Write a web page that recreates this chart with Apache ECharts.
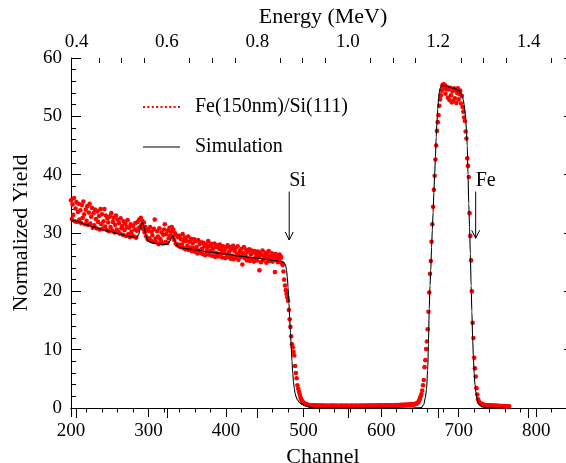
<!DOCTYPE html>
<html>
<head>
<meta charset="utf-8">
<script src="https://cdn.jsdelivr.net/npm/echarts@6.0.0/dist/echarts.min.js"></script>
<style>
  html, body { margin: 0; padding: 0; background: #fff; }
  #chart { width: 566px; height: 463px; }
</style>
</head>
<body>
<div id="chart"></div>
<script>
// RBS spectrum of a Fe(150nm) film on Si(111): measured yield per channel and simulation.

// Measured yield, one value per channel starting at channel 200.
const measuredStartChannel = 200;
const measuredYield = [
  /* 200 */ 35.6, 32.4, 34.9, 33.1, 36.0, 32.0, 34.2, 35.3, 31.9, 33.6,
  /* 210 */ 35.0, 32.3, 33.9, 31.7, 34.8, 32.6, 35.4, 33.2, 31.5, 34.0,
  /* 220 */ 32.1, 34.6, 31.4, 33.5, 35.0, 31.6, 32.8, 34.3, 30.9, 33.4,
  /* 230 */ 31.3, 34.0, 32.4, 30.8, 33.7, 31.9, 32.9, 30.6, 34.1, 31.5,
  /* 240 */ 33.2, 30.7, 32.0, 34.1, 31.1, 33.0, 30.5, 32.5, 31.8, 30.3,
  /* 250 */ 32.8, 31.0, 33.4, 30.4, 31.9, 32.6, 30.1, 31.4, 33.0, 30.6,
  /* 260 */ 32.3, 30.2, 31.7, 29.9, 32.5, 30.8, 31.2, 29.7, 32.0, 30.5,
  /* 270 */ 31.6, 29.5, 31.0, 32.2, 29.8, 30.9, 29.3, 31.5, 30.2, 29.6,
  /* 280 */ 31.2, 29.4, 30.6, 31.7, 29.2, 30.4, 31.9, 30.8, 32.3, 31.0,
  /* 290 */ 32.6, 31.4, 32.1, 30.7, 31.8, 30.1, 31.0, 29.4, 30.6, 28.9,
  /* 300 */ 30.4, 29.1, 31.0, 28.7, 30.2, 29.6, 28.5, 30.7, 32.3, 29.0,
  /* 310 */ 28.4, 30.3, 29.4, 28.1, 30.8, 29.0, 28.6, 30.1, 28.2, 29.7,
  /* 320 */ 30.6, 31.5, 28.5, 29.8, 28.3, 30.4, 29.1, 30.9, 29.5, 30.2,
  /* 330 */ 31.0, 29.4, 30.6, 28.8, 30.0, 28.2, 29.6, 27.9, 29.3, 28.0,
  /* 340 */ 29.5, 27.6, 28.9, 28.0, 29.8, 27.4, 28.6, 29.2, 27.2, 28.7,
  /* 350 */ 27.8, 29.4, 27.1, 28.5, 27.5, 29.0, 26.9, 28.2, 27.4, 28.9,
  /* 360 */ 26.8, 28.6, 27.6, 26.5, 28.8, 27.0, 28.1, 26.6, 28.4, 27.3,
  /* 370 */ 26.4, 28.3, 27.7, 26.2, 28.0, 26.9, 27.5, 28.6, 26.3, 27.8,
  /* 380 */ 26.9, 28.1, 26.1, 27.4, 26.7, 28.2, 25.9, 27.6, 26.5, 27.9,
  /* 390 */ 26.0, 27.3, 28.0, 26.4, 27.1, 25.8, 27.7, 26.6, 27.0, 25.7,
  /* 400 */ 27.5, 26.3, 27.9, 25.9, 26.8, 27.6, 25.6, 27.2, 26.1, 27.8,
  /* 410 */ 25.5, 26.9, 27.4, 25.8, 26.4, 27.7, 25.4, 26.6, 27.0, 25.9,
  /* 420 */ 27.3, 24.6, 26.5, 27.6, 25.7, 26.2, 27.1, 25.3, 26.8, 25.6,
  /* 430 */ 27.2, 25.2, 26.3, 27.0, 25.5, 26.7, 25.1, 26.9, 25.8, 26.4,
  /* 440 */ 25.3, 26.8, 25.9, 23.6, 26.5, 25.0, 26.2, 27.0, 25.4, 26.1,
  /* 450 */ 25.7, 26.6, 24.9, 26.3, 25.6, 26.9, 25.2, 26.0, 25.5, 26.5,
  /* 460 */ 25.1, 26.2, 25.8, 23.3, 26.4, 25.4, 26.0, 25.0, 25.7, 26.3,
  /* 470 */ 25.6, 25.9, 24.8, 24.5, 23.4, 22.0, 21.0, 20.2, 19.6, 19.0,
  /* 480 */ 18.4, 16.8, 15.2, 13.9, 12.3, 10.9, 10.4, 9.6, 9.0, 7.2,
  /* 490 */ 6.0, 5.1, 3.9, 3.3, 2.8, 2.3, 1.8, 1.5, 1.2, 1.0,
  /* 500 */ 0.9, 0.8, 0.7, 0.65, 0.6, 0.55, 0.5, 0.5, 0.45, 0.45,
  /* 510 */ 0.40, 0.42, 0.38, 0.45, 0.36, 0.40, 0.34, 0.43, 0.37, 0.41,
  /* 520 */ 0.35, 0.39, 0.44, 0.33, 0.40, 0.36, 0.42, 0.31, 0.38, 0.35,
  /* 530 */ 0.41, 0.34, 0.39, 0.30, 0.37, 0.42, 0.33, 0.36, 0.40, 0.32,
  /* 540 */ 0.38, 0.35, 0.41, 0.31, 0.37, 0.34, 0.39, 0.30, 0.36, 0.40,
  /* 550 */ 0.33, 0.37, 0.32, 0.38, 0.35, 0.41, 0.31, 0.36, 0.34, 0.39,
  /* 560 */ 0.32, 0.36, 0.40, 0.33, 0.37, 0.31, 0.38, 0.35, 0.42, 0.34,
  /* 570 */ 0.37, 0.32, 0.39, 0.36, 0.41, 0.33, 0.38, 0.35, 0.40, 0.34,
  /* 580 */ 0.37, 0.42, 0.36, 0.39, 0.33, 0.41, 0.37, 0.44, 0.35, 0.40,
  /* 590 */ 0.38, 0.36, 0.43, 0.39, 0.34, 0.41, 0.37, 0.45, 0.38, 0.42,
  /* 600 */ 0.36, 0.40, 0.44, 0.37, 0.42, 0.39, 0.46, 0.38, 0.43, 0.40,
  /* 610 */ 0.47, 0.41, 0.45, 0.39, 0.48, 0.43, 0.46, 0.40, 0.49, 0.44,
  /* 620 */ 0.47, 0.52, 0.45, 0.50, 0.47, 0.53, 0.48, 0.51, 0.55, 0.49,
  /* 630 */ 0.54, 0.51, 0.57, 0.53, 0.56, 0.60, 0.54, 0.58, 0.62, 0.57,
  /* 640 */ 0.60, 0.63, 0.62, 0.66, 0.70, 0.74, 0.78, 0.85, 1.0, 1.3,
  /* 650 */ 1.6, 2.0, 2.4, 3.0, 3.9, 4.8, 7.0, 8.2, 10.1, 11.4,
  /* 660 */ 13.5, 16.5, 19.8, 23.0, 25.2, 28.5, 31.5, 34.5, 37.4, 39.8,
  /* 670 */ 42.6, 45.0, 47.5, 49.0, 50.2, 51.8, 52.9, 53.6, 54.4, 55.3,
  /* 680 */ 55.5, 54.8, 55.4, 53.9, 54.7, 55.0, 53.2, 54.6, 52.8, 54.9,
  /* 690 */ 53.6, 52.4, 54.3, 52.6, 54.8, 53.1, 54.5, 52.3, 54.0, 54.8,
  /* 700 */ 52.9, 53.8, 54.4, 52.2, 53.5, 51.6, 50.8, 49.8, 49.2, 47.4,
  /* 710 */ 46.2, 42.8, 41.5, 39.6, 33.4, 29.5, 25.3, 20.0, 14.6, 12.0,
  /* 720 */ 8.6, 6.8, 5.4, 3.4, 2.3, 1.5, 1.1, 0.9, 0.8, 0.7,
  /* 730 */ 0.65, 0.6, 0.55, 0.5, 0.5, 0.48, 0.45, 0.47, 0.43, 0.44,
  /* 740 */ 0.41, 0.42, 0.40, 0.41, 0.38, 0.39, 0.37, 0.38, 0.36, 0.37,
  /* 750 */ 0.35, 0.36, 0.34, 0.35, 0.33, 0.34, 0.32, 0.33, 0.31, 0.32,
  /* 760 */ 0.30, 0.31, 0.29, 0.30, 0.28, 0.29
];

// Simulated spectrum (channel, yield).
const simChannel = [
  200, 210, 220, 230, 240, 250, 260, 270, 280, 284, 287, 289, 291, 292, 293, 295, 297, 299,
  302, 310, 320, 325, 328, 330, 331, 332, 334, 336, 338, 340, 350, 360, 380, 400, 420, 440,
  460, 472, 475, 477, 478, 479, 480, 481, 482, 483, 484, 485, 486, 487, 488, 489, 490, 492,
  495, 498, 502, 505, 510, 515, 640, 650, 652, 655, 657, 658.5, 660, 661, 662, 663, 664, 665,
  666, 667, 668, 669, 670, 671, 672, 673, 674, 675, 676, 678, 680, 684, 690, 696, 700, 703,
  705, 706, 707, 708, 709, 710, 711, 712, 713, 714, 715, 716, 717, 718, 719, 720, 721, 722,
  723, 724, 725, 727, 730, 735, 760
];
const simYield = [
  32.3, 31.9, 31.4, 31.0, 30.6, 30.3, 29.9, 29.6, 29.3, 29.2, 29.6, 30.6, 31.5, 31.8, 31.6, 30.6, 29.4, 28.7,
  28.4, 28.2, 28.0, 28.1, 28.7, 29.3, 29.5, 29.4, 28.8, 28.0, 27.6, 27.5, 27.3, 27.1, 26.7, 26.4, 26.0, 25.7,
  25.3, 25.1, 24.9, 24.4, 23.6, 22.4, 20.6, 18.0, 15.5, 13.0, 10.5, 8.0, 6.0, 4.4, 3.3, 2.5, 2.0, 1.4,
  0.9, 0.6, 0.4, 0.25, 0.1, 0.0, 0.0, 0.05, 0.1, 0.6, 1.8, 3.2, 6.5, 11.0, 17.0, 21.0, 23.5, 27.5,
  30.5, 33.5, 37.0, 40.0, 43.0, 46.5, 49.0, 51.2, 53.0, 54.2, 54.8, 55.2, 55.3, 55.2, 54.9, 54.7, 54.4, 54.0,
  53.3, 52.8, 52.0, 51.0, 49.5, 47.6, 45.0, 40.0, 35.0, 31.0, 26.5, 21.0, 16.5, 12.0, 8.5, 5.8, 4.0, 2.8,
  2.0, 1.4, 0.9, 0.5, 0.2, 0.05, 0.0
];

// Energy calibration of the detector: E[MeV] = energyOffset + energyGain * channel.
const energyOffset = 0.0448;
const energyGain = 0.001715;
const energyTicks = [0.4, 0.6, 0.8, 1.0, 1.2, 1.4];

// Edge markers: label, channel, arrow tail and tip yields.
const edgeLabels = ['Si', 'Fe'];
const edgeChannel = [481.4, 721.9];
const edgeArrowTop = [37.1, 37.1];
const edgeArrowTip = [28.8, 29.1];

const channelMin = 200, channelMax = 850;
const FONT = '"Liberation Serif", "Times New Roman", serif';

const toEnergy = ch => energyOffset + energyGain * ch;
const energyMin = toEnergy(channelMin);
const energyMax = toEnergy(channelMax);
const energyMinorTicks = [];
for (let k = 8; k * 0.05 <= energyMax + 1e-9; k++) {
  const e = +(k * 0.05).toFixed(2);
  if (e >= energyMin && energyTicks.indexOf(e) < 0) energyMinorTicks.push(e);
}

const measuredData = measuredYield.map((v, i) => [measuredStartChannel + i, v]);
const simData = simChannel.map((c, i) => [c, simYield[i]]);
const edgeData = edgeChannel.map((c, i) => [c, edgeArrowTop[i], edgeArrowTip[i]]);

const black = '#000';
const axisLine = { show: true, lineStyle: { color: black, width: 1 } };

const dotIcon = 'path://' + Array.from({ length: 9 }, (_, i) =>
  'M' + (i * 4.4) + ',0h2v2h-2z').join(' ');

const chart = echarts.init(document.getElementById('chart'), null, { renderer: 'canvas' });

chart.setOption({
  animation: false,
  backgroundColor: '#fff',
  textStyle: { fontFamily: FONT },
  grid: { left: 71, top: 58, right: -9, bottom: 55, containLabel: false, outerBoundsMode: 'none' },
  legend: {
    orient: 'vertical',
    left: 143,
    top: 97,
    padding: 0,
    itemGap: 20,
    itemWidth: 37,
    itemHeight: 2,
    selectedMode: false,
    textStyle: { fontFamily: FONT, fontSize: 20, color: black, padding: [0, 0, 0, 10] },
    data: [
      { name: 'Fe(150nm)/Si(111)', icon: dotIcon },
      { name: 'Simulation', icon: 'path://M0,0H37V1H0Z' }
    ]
  },
  xAxis: [
    {
      type: 'value', position: 'bottom', min: channelMin, max: channelMax, interval: 100,
      name: 'Channel', nameLocation: 'middle', nameGap: 32,
      nameTextStyle: { fontFamily: FONT, fontSize: 22, color: black },
      axisLine: axisLine,
      axisTick: { show: true, inside: false, length: 9, lineStyle: { color: black } },
      minorTick: { show: true, splitNumber: 5, length: 4.5, lineStyle: { color: black } },
      axisLabel: { fontFamily: FONT, fontSize: 19, color: black, margin: 14, showMaxLabel: false },
      splitLine: { show: false }
    },
    {
      type: 'value', position: 'top', min: energyMin, max: energyMax,
      name: 'Energy (MeV)', nameLocation: 'middle', nameGap: 29,
      nameTextStyle: { fontFamily: FONT, fontSize: 22, color: black },
      axisLine: axisLine,
      axisTick: { show: true, inside: true, length: 10, customValues: energyTicks, lineStyle: { color: black } },
      axisLabel: {
        fontFamily: FONT, fontSize: 19, color: black, margin: 6,
        customValues: energyTicks, formatter: v => v.toFixed(1)
      },
      splitLine: { show: false }
    },
    {
      type: 'value', position: 'top', min: energyMin, max: energyMax,
      axisLine: { show: false },
      axisTick: { show: true, inside: true, length: 5, customValues: energyMinorTicks, lineStyle: { color: black } },
      axisLabel: { show: false },
      splitLine: { show: false }
    }
  ],
  yAxis: [
    {
      type: 'value', position: 'left', min: 0, max: 60, interval: 10,
      name: 'Normalized Yield', nameLocation: 'middle', nameGap: 36,
      nameTextStyle: { fontFamily: FONT, fontSize: 22, color: black },
      axisLine: axisLine,
      axisTick: { show: true, inside: true, length: 10, lineStyle: { color: black } },
      minorTick: { show: true, splitNumber: 5, length: 5, lineStyle: { color: black } },
      axisLabel: { fontFamily: FONT, fontSize: 19, color: black, margin: 9 },
      splitLine: { show: false }
    },
    {
      type: 'value', position: 'right', min: 0, max: 60, interval: 10,
      axisLine: axisLine,
      axisTick: { show: true, inside: true, length: 11, lineStyle: { color: black } },
      minorTick: { show: true, splitNumber: 5, length: 5, lineStyle: { color: black } },
      axisLabel: { show: false },
      splitLine: { show: false }
    }
  ],
  series: [
    {
      name: 'Fe(150nm)/Si(111)',
      type: 'scatter',
      xAxisIndex: 0, yAxisIndex: 0,
      symbol: 'circle',
      symbolSize: 4.6,
      itemStyle: { color: '#ff0000', opacity: 1 },
      data: measuredData,
      silent: true
    },
    {
      name: 'Simulation',
      type: 'line',
      xAxisIndex: 0, yAxisIndex: 0,
      showSymbol: false,
      symbol: 'none',
      smooth: 0.3,
      smoothMonotone: 'x',
      lineStyle: { color: black, width: 1.1 },
      itemStyle: { color: black },
      data: simData,
      silent: true
    },
    {
      type: 'custom',
      xAxisIndex: 0, yAxisIndex: 0,
      silent: true,
      data: edgeData,
      renderItem: function (params, api) {
        const top = api.coord([api.value(0), api.value(1)]);
        const tip = api.coord([api.value(0), api.value(2)]);
        return {
          type: 'group',
          children: [
            { type: 'line', shape: { x1: top[0], y1: top[1], x2: tip[0], y2: tip[1] },
              style: { stroke: black, lineWidth: 1 } },
            { type: 'polyline',
              shape: { points: [[tip[0] - 4, tip[1] - 8], [tip[0], tip[1]], [tip[0] + 4, tip[1] - 8]] },
              style: { stroke: black, fill: null, lineWidth: 1 } },
            { type: 'text',
              style: { text: edgeLabels[params.dataIndex], x: top[0], y: top[1] - 1,
                       font: '20px ' + FONT, fill: black,
                       align: 'left', verticalAlign: 'bottom',
                       textAlign: 'left', textVerticalAlign: 'bottom' } }
          ]
        };
      }
    }
  ]
});
</script>
</body>
</html>
